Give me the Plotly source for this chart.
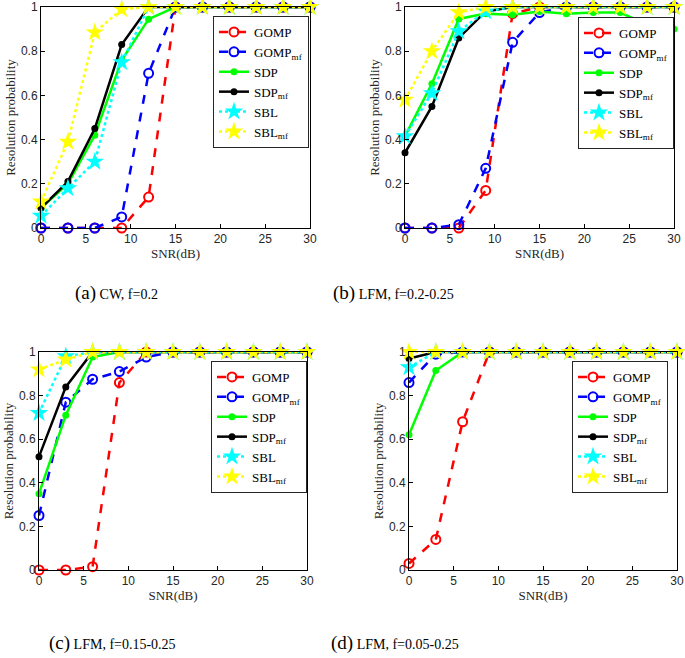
import plotly.graph_objects as go

snr = [0, 3, 6, 9, 12, 15, 18, 21, 24, 27, 30]

# Panel (a) CW, f=0.2
gomp_a = [0, 0, 0, 0, 0.14, 1, 1, 1, 1, 1, 1]
gompmf_a = [0, 0, 0, 0.05, 0.70, 1, 1, 1, 1, 1, 1]
sdp_a = [0.09, 0.20, 0.42, 0.76, 0.945, 1, 1, 1, 1, 1, 1]
sdpmf_a = [0.09, 0.21, 0.45, 0.83, 1, 1, 1, 1, 1, 1, 1]
sbl_a = [0.055, 0.18, 0.30, 0.75, 1, 1, 1, 1, 1, 1, 1]
sblmf_a = [0.12, 0.39, 0.885, 0.99, 1, 1, 1, 1, 1, 1, 1]

# Panel (b) LFM, f=0.2-0.25
gomp_b = [0, 0, 0, 0.17, 0.97, 1, 1, 1, 1, 1, 1]
gompmf_b = [0, 0, 0.015, 0.27, 0.84, 0.975, 1, 1, 1, 1, 1]
sdp_b = [0.415, 0.653, 0.946, 0.97, 0.965, 0.98, 0.97, 0.975, 0.975, 0.92, 0.90]
sdpmf_b = [0.34, 0.55, 0.86, 0.98, 1, 1, 1, 1, 1, 1, 1]
sbl_b = [0.415, 0.61, 0.89, 0.98, 1, 1, 1, 1, 1, 1, 1]
sblmf_b = [0.58, 0.80, 0.976, 1, 1, 1, 1, 1, 1, 1, 1]

# Panel (c) LFM, f=0.15-0.25
gomp_c = [0, 0, 0.015, 0.86, 1, 1, 1, 1, 1, 1, 1]
gompmf_c = [0.25, 0.77, 0.875, 0.91, 0.977, 1, 1, 1, 1, 1, 1]
sdp_c = [0.35, 0.71, 0.977, 1, 1, 1, 1, 1, 1, 1, 1]
sdpmf_c = [0.52, 0.84, 1, 1, 1, 1, 1, 1, 1, 1, 1]
sbl_c = [0.72, 0.98, 1, 1, 1, 1, 1, 1, 1, 1, 1]
sblmf_c = [0.92, 0.965, 1, 1, 1, 1, 1, 1, 1, 1, 1]

# Panel (d) LFM, f=0.05-0.25
gomp_d = [0.03, 0.14, 0.68, 1, 1, 1, 1, 1, 1, 1, 1]
gompmf_d = [0.86, 0.99, 1, 1, 1, 1, 1, 1, 1, 1, 1]
sdp_d = [0.62, 0.915, 1, 1, 1, 1, 1, 1, 1, 1, 1]
sdpmf_d = [0.97, 1, 1, 1, 1, 1, 1, 1, 1, 1, 1]
sbl_d = [0.93, 1, 1, 1, 1, 1, 1, 1, 1, 1, 1]
sblmf_d = [1, 1, 1, 1, 1, 1, 1, 1, 1, 1, 1]

names = ["GOMP", "GOMP<sub>mf</sub>", "SDP", "SDP<sub>mf</sub>", "SBL", "SBL<sub>mf</sub>"]
captions = ["<span style='font-size:19px'>(a)</span> CW, f=0.2",
            "<span style='font-size:19px'>(b)</span> LFM, f=0.2-0.25",
            "<span style='font-size:19px'>(c)</span> LFM, f=0.15-0.25",
            "<span style='font-size:19px'>(d)</span> LFM, f=0.05-0.25"]

panels = [
    [gomp_a, gompmf_a, sdp_a, sdpmf_a, sbl_a, sblmf_a],
    [gomp_b, gompmf_b, sdp_b, sdpmf_b, sbl_b, sblmf_b],
    [gomp_c, gompmf_c, sdp_c, sdpmf_c, sbl_c, sblmf_c],
    [gomp_d, gompmf_d, sdp_d, sdpmf_d, sbl_d, sblmf_d],
]

styles = [
    dict(color="#FF0000", dash="dash", symbol="circle-open", size=9, mline=2),
    dict(color="#0000FF", dash="dash", symbol="circle-open", size=9, mline=2),
    dict(color="#00FF00", dash="solid", symbol="circle", size=7, mline=0),
    dict(color="#000000", dash="solid", symbol="circle", size=7, mline=0),
    dict(color="#00FFFF", dash="dot", symbol="star", size=14, mline=0),
    dict(color="#FFFF00", dash="dot", symbol="star", size=14, mline=0),
]

W, H = 685, 658
# pixel geometry of each plot area: (left, right, top, bottom)
boxes = [(41, 310, 7, 228), (405, 674, 7, 228), (39, 307, 352, 570), (409, 677, 352, 570)]
legend_pos = [(309, 16), (674, 17), (307, 361), (668, 361)]
cap_pos = [(116, 293), (393, 293), (112, 643), (395, 643)]

fig = go.Figure()
serif = "Liberation Serif"
sans = "Liberation Sans"

for p, series in enumerate(panels):
    ax = "" if p == 0 else str(p + 1)
    lg = "legend" if p == 0 else "legend" + str(p + 1)
    for i, ys in enumerate(series):
        st = styles[i]
        fig.add_trace(go.Scatter(
            x=snr, y=ys, name=names[i], mode="lines+markers",
            xaxis="x" + ax, yaxis="y" + ax, legend=lg,
            line=dict(color=st["color"], dash=st["dash"], width=2.5),
            marker=dict(symbol=st["symbol"], size=st["size"], color=st["color"],
                        line=dict(width=st["mline"], color=st["color"])),
            cliponaxis=False,
        ))
    l, r, t, b = boxes[p]
    xd = [l / W, r / W]
    yd = [1 - b / H, 1 - t / H]
    axis_common = dict(showline=True, mirror=True, linecolor="black", linewidth=1,
                       ticks="inside", ticklen=4, tickcolor="black", showgrid=False,
                       zeroline=False, automargin=False,
                       tickfont=dict(family=sans, size=12, color="#262626"))
    fig.layout["xaxis" + ax] = dict(domain=xd, range=[0, 30], tickvals=[0, 5, 10, 15, 20, 25, 30],
                                    anchor="y" + ax,
                                    title=dict(text="SNR(dB)", font=dict(family=serif, size=13, color="#262626"),
                                               standoff=0),
                                    **axis_common)
    fig.layout["yaxis" + ax] = dict(domain=yd, range=[0, 1], tickvals=[0, 0.2, 0.4, 0.6, 0.8, 1],
                                    ticktext=["0", "0.2", "0.4", "0.6", "0.8", "1"],
                                    anchor="x" + ax,
                                    title=dict(text="Resolution probability",
                                               font=dict(family=serif, size=13, color="#262626"),
                                               standoff=2),
                                    **axis_common)
    lx, ly = legend_pos[p]
    fig.layout[lg] = dict(x=lx / W, y=1 - ly / H, xanchor="right", yanchor="top",
                          bgcolor="white", bordercolor="#262626", borderwidth=1,
                          font=dict(family=serif, size=13, color="black"),
                          tracegroupgap=0, itemwidth=30)
    cx, cy = cap_pos[p]
    fig.add_annotation(x=cx / W, y=1 - cy / H, xref="paper", yref="paper",
                       text=captions[p], showarrow=False,
                       font=dict(family=serif, size=14, color="black"),
                       xanchor="center", yanchor="middle")

fig.update_layout(width=W, height=H, margin=dict(l=0, r=0, t=0, b=0),
                  paper_bgcolor="white", plot_bgcolor="white", showlegend=True)

fig.write_html("out.html", config={"displayModeBar": False},
               post_script="document.body.style.margin='0px';")
